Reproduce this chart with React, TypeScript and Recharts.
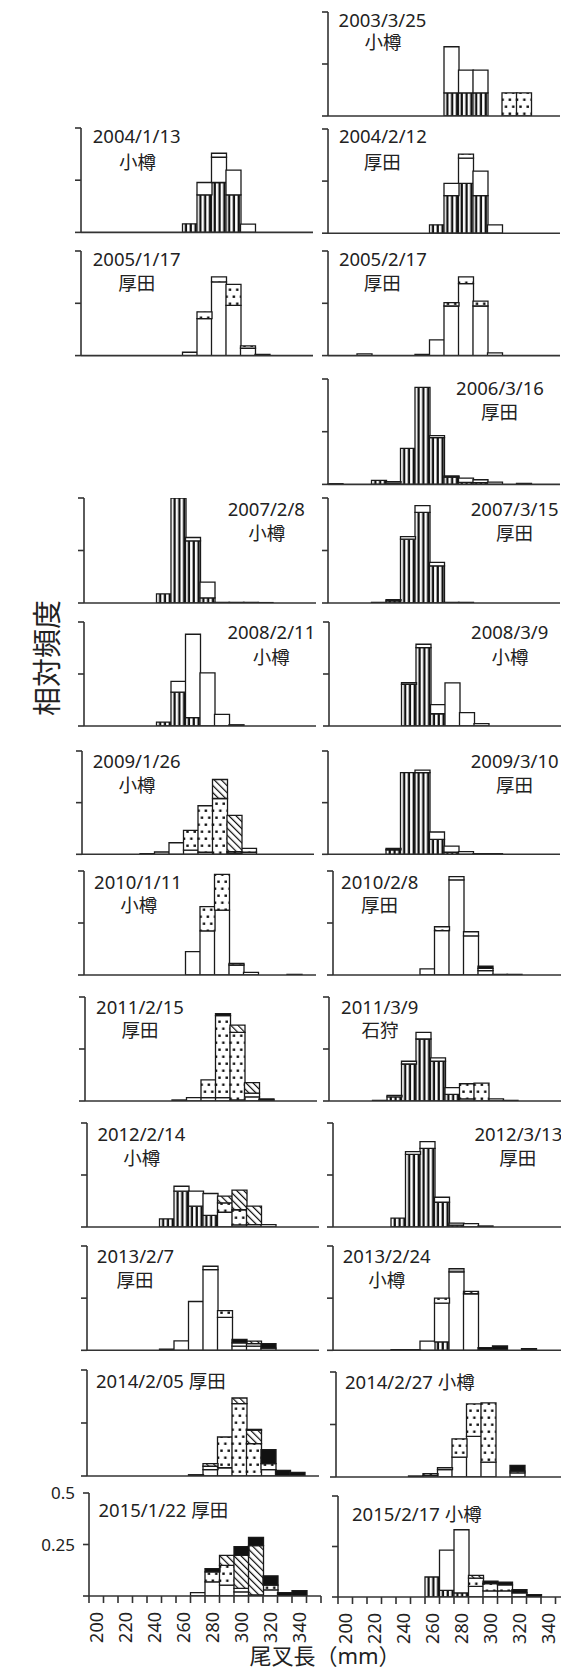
import React from 'react';
import { BarChart, Bar, XAxis, YAxis } from 'recharts';

// ---------- categories & ticks ----------
const BINS = ['200', '210', '220', '230', '240', '250', '260', '270', '280', '290', '300', '310', '320', '330', '340', '350'];
const X_LABELS = ['200', '220', '240', '260', '280', '300', '320', '340'];
const Y_TICKS = [0, 0.25, 0.5];

// ---------- data (relative frequency per 10 mm bin, stacked by group) ----------
// S = vertical stripes, W = open, D = dotted, H = hatched, B = solid black, G = grey
const D2003_0325 = {
  S: [0, 0, 0, 0, 0, 0, 0, 0, 0.111, 0.111, 0.111, 0, 0, 0, 0, 0],
  W: [0, 0, 0, 0, 0, 0, 0, 0, 0.222, 0.11, 0.11, 0, 0, 0, 0, 0],
  D: [0, 0, 0, 0, 0, 0, 0, 0, 0, 0, 0, 0, 0.111, 0.111, 0, 0],
};
const D2004_0113 = {
  S: [0, 0, 0, 0, 0, 0, 0, 0.041, 0.18, 0.239, 0.18, 0, 0, 0, 0, 0],
  W: [0, 0, 0, 0, 0, 0, 0, 0, 0.059, 0.121, 0.118, 0.04, 0, 0, 0, 0],
  D: [0, 0, 0, 0, 0, 0, 0, 0, 0, 0.019, 0, 0, 0, 0, 0, 0],
};
const D2004_0212 = {
  S: [0, 0, 0, 0, 0, 0, 0, 0.04, 0.18, 0.239, 0.18, 0, 0, 0, 0, 0],
  W: [0, 0, 0, 0, 0, 0, 0, 0, 0.059, 0.121, 0.118, 0.04, 0, 0, 0, 0],
  D: [0, 0, 0, 0, 0, 0, 0, 0, 0, 0.019, 0, 0, 0, 0, 0, 0],
};
const D2005_0117 = {
  W: [0, 0, 0, 0, 0, 0, 0, 0.016, 0.177, 0.352, 0.24, 0.035, 0.006, 0, 0, 0],
  D: [0, 0, 0, 0, 0, 0, 0, 0, 0.032, 0.024, 0.1, 0.011, 0, 0, 0, 0],
};
const D2005_0217 = {
  W: [0, 0, 0.008, 0, 0, 0, 0.006, 0.075, 0.237, 0.344, 0.237, 0.013, 0, 0, 0, 0],
  D: [0, 0, 0, 0, 0, 0, 0, 0, 0.016, 0.032, 0.023, 0, 0, 0, 0, 0],
};
const D2006_0316 = {
  S: [0, 0, 0, 0.019, 0.006, 0.171, 0.46, 0.222, 0.035, 0.01, 0.008, 0, 0, 0, 0, 0],
  W: [0.004, 0, 0, 0, 0.007, 0, 0, 0.009, 0.005, 0.02, 0.014, 0.011, 0, 0.005, 0, 0],
};
const D2007_0208 = {
  S: [0, 0, 0, 0, 0, 0.043, 0.6, 0.296, 0.024, 0, 0, 0, 0, 0, 0, 0],
  W: [0, 0, 0, 0, 0, 0, 0, 0.016, 0.075, 0.003, 0.003, 0.003, 0.002, 0, 0, 0],
};
const D2007_0315 = {
  S: [0, 0, 0, 0, 0.01, 0.304, 0.432, 0.177, 0, 0, 0, 0, 0, 0, 0, 0],
  W: [0, 0, 0, 0.003, 0.006, 0.012, 0.032, 0.016, 0.003, 0.003, 0, 0, 0, 0, 0, 0],
};
const D2008_0211 = {
  S: [0, 0, 0, 0, 0, 0.019, 0.163, 0.04, 0, 0, 0, 0, 0, 0, 0, 0],
  W: [0, 0, 0, 0, 0, 0, 0.052, 0.401, 0.255, 0.056, 0.006, 0, 0, 0, 0, 0],
};
const D2008_0309 = {
  S: [0, 0, 0, 0, 0, 0.2, 0.377, 0.059, 0, 0, 0, 0, 0, 0, 0, 0],
  W: [0, 0, 0, 0, 0, 0.008, 0.016, 0.044, 0.207, 0.064, 0.011, 0, 0, 0, 0, 0],
};
const D2009_0126 = {
  W: [0, 0, 0, 0, 0.003, 0.011, 0.056, 0.02, 0.01, 0, 0.005, 0.01, 0, 0, 0, 0],
  D: [0, 0, 0, 0, 0, 0, 0, 0.096, 0.225, 0.27, 0.008, 0.019, 0, 0, 0, 0],
  H: [0, 0, 0, 0, 0, 0, 0, 0, 0, 0.092, 0.175, 0, 0, 0, 0, 0],
};
const D2009_0310 = {
  S: [0, 0, 0, 0, 0.022, 0.395, 0.395, 0.072, 0.01, 0, 0, 0, 0, 0, 0, 0],
  W: [0, 0, 0, 0, 0.007, 0, 0.012, 0.036, 0.03, 0.013, 0.003, 0.003, 0, 0, 0, 0],
};
const D2010_0111 = {
  W: [0, 0, 0, 0, 0, 0, 0, 0.112, 0.212, 0.312, 0.048, 0.013, 0, 0, 0.003, 0],
  D: [0, 0, 0, 0, 0, 0, 0, 0, 0.117, 0.172, 0.008, 0, 0, 0, 0, 0],
};
const D2010_0208 = {
  W: [0, 0, 0, 0, 0, 0, 0.029, 0.213, 0.457, 0.188, 0.021, 0.003, 0.003, 0, 0, 0],
  D: [0, 0, 0, 0, 0, 0, 0, 0.019, 0.016, 0.02, 0.011, 0, 0, 0, 0, 0],
  B: [0, 0, 0, 0, 0, 0, 0, 0, 0, 0, 0.011, 0, 0, 0, 0, 0],
};
const D2011_0215 = {
  W: [0, 0, 0, 0, 0, 0, 0.005, 0.016, 0.016, 0.016, 0.005, 0.02, 0.005, 0, 0, 0],
  D: [0, 0, 0, 0, 0, 0, 0, 0, 0.086, 0.394, 0.325, 0.018, 0, 0, 0, 0],
  H: [0, 0, 0, 0, 0, 0, 0, 0, 0, 0, 0.035, 0.05, 0, 0, 0, 0],
  B: [0, 0, 0, 0, 0, 0, 0, 0, 0, 0.01, 0, 0, 0.005, 0, 0, 0],
};
const D2011_0309 = {
  S: [0, 0, 0, 0, 0.02, 0.178, 0.298, 0.191, 0.032, 0, 0, 0, 0, 0, 0, 0],
  W: [0, 0, 0, 0.003, 0.007, 0.013, 0.032, 0.016, 0.032, 0.01, 0, 0.01, 0.003, 0, 0, 0],
  D: [0, 0, 0, 0, 0, 0, 0, 0, 0, 0.073, 0.086, 0, 0, 0, 0, 0],
};
const D2012_0214 = {
  S: [0, 0, 0, 0, 0, 0.039, 0.172, 0.1, 0.056, 0, 0, 0, 0, 0, 0, 0],
  W: [0, 0, 0, 0, 0, 0, 0.024, 0.072, 0.105, 0.071, 0.01, 0.011, 0.011, 0, 0, 0],
  D: [0, 0, 0, 0, 0, 0, 0, 0, 0, 0.045, 0.073, 0, 0, 0, 0, 0],
  H: [0, 0, 0, 0, 0, 0, 0, 0, 0, 0.032, 0.094, 0.089, 0, 0, 0, 0],
};
const D2012_0313 = {
  S: [0, 0, 0, 0, 0.043, 0.349, 0.378, 0.119, 0.009, 0, 0, 0, 0, 0, 0, 0],
  W: [0, 0, 0, 0, 0, 0.013, 0.032, 0.024, 0.01, 0.016, 0.005, 0, 0, 0, 0, 0],
};
const D2013_0207 = {
  W: [0, 0, 0, 0, 0, 0.005, 0.045, 0.234, 0.387, 0.158, 0.02, 0.02, 0.01, 0, 0, 0],
  D: [0, 0, 0, 0, 0, 0, 0, 0, 0.016, 0.032, 0.016, 0.012, 0, 0, 0, 0],
  H: [0, 0, 0, 0, 0, 0, 0, 0, 0, 0, 0, 0.012, 0, 0, 0, 0],
  B: [0, 0, 0, 0, 0, 0, 0, 0, 0, 0, 0.016, 0, 0.022, 0, 0, 0],
};
const D2013_0224 = {
  S: [0, 0, 0, 0, 0, 0, 0, 0.04, 0, 0, 0, 0, 0, 0, 0, 0],
  W: [0, 0, 0, 0, 0, 0, 0.044, 0.186, 0.376, 0.271, 0, 0, 0, 0, 0, 0],
  D: [0, 0, 0, 0, 0, 0, 0, 0.024, 0, 0.011, 0, 0, 0, 0, 0, 0],
  B: [0, 0, 0, 0, 0.003, 0.003, 0, 0, 0, 0, 0.013, 0.021, 0, 0.008, 0, 0],
  G: [0, 0, 0, 0, 0, 0, 0, 0, 0.016, 0, 0, 0, 0, 0, 0, 0],
};
const D2014_0205 = {
  W: [0, 0, 0, 0, 0, 0, 0, 0, 0.03, 0.039, 0, 0, 0.03, 0, 0, 0],
  D: [0, 0, 0, 0, 0, 0, 0, 0, 0.016, 0.145, 0.341, 0.153, 0.028, 0, 0, 0],
  H: [0, 0, 0, 0, 0, 0, 0, 0, 0.012, 0, 0.027, 0.063, 0, 0, 0, 0],
  B: [0, 0, 0, 0, 0, 0, 0, 0.006, 0, 0, 0, 0.004, 0.066, 0.027, 0.017, 0],
};
const D2014_0227 = {
  W: [0, 0, 0, 0, 0, 0.005, 0.008, 0.035, 0.095, 0.193, 0.071, 0, 0.02, 0, 0, 0],
  D: [0, 0, 0, 0, 0, 0, 0.008, 0.009, 0.087, 0.155, 0.282, 0, 0.008, 0, 0, 0],
  B: [0, 0, 0, 0, 0, 0, 0, 0, 0, 0, 0, 0, 0.027, 0, 0, 0],
};
const D2015_0122 = {
  W: [0, 0, 0, 0, 0, 0, 0, 0.016, 0.069, 0.053, 0.02, 0.005, 0.03, 0, 0, 0],
  D: [0, 0, 0, 0, 0, 0, 0, 0, 0.048, 0.096, 0.017, 0, 0.023, 0, 0, 0],
  H: [0, 0, 0, 0, 0, 0, 0, 0, 0, 0.048, 0.16, 0.24, 0, 0, 0, 0],
  B: [0, 0, 0, 0, 0, 0, 0, 0, 0.016, 0, 0.043, 0.04, 0.045, 0.016, 0.026, 0],
};
const D2015_0217 = {
  S: [0, 0, 0, 0, 0, 0, 0.099, 0.033, 0.02, 0, 0, 0, 0, 0, 0, 0],
  W: [0, 0, 0, 0, 0, 0, 0, 0.199, 0.313, 0.053, 0.03, 0.03, 0.02, 0, 0, 0],
  D: [0, 0, 0, 0, 0, 0, 0, 0, 0, 0.04, 0.036, 0.03, 0, 0, 0, 0],
  H: [0, 0, 0, 0, 0, 0, 0, 0, 0, 0.014, 0, 0, 0, 0, 0, 0],
  B: [0, 0, 0, 0, 0, 0, 0, 0, 0, 0, 0.012, 0.014, 0.016, 0.012, 0, 0],
};

// ---------- styling ----------
const FONT = "'Noto Sans', 'Noto Sans CJK JP', sans-serif";
const AX = '#333';
const TXT = '#222';
const PLOT_W = 232;
const Y_W = 60;
const M_TOP = 14;

const SERIES = [
  { key: 'S', fill: 'url(#pS)' },
  { key: 'W', fill: '#ffffff' },
  { key: 'D', fill: 'url(#pD)' },
  { key: 'H', fill: 'url(#pH)' },
  { key: 'B', fill: '#111111' },
  { key: 'G', fill: '#a8a8a8' },
];

type P = {
  d: Record<string, number[]>;
  ax: number; top: number; h: number;
  bottom?: boolean; yLabels?: boolean;
  t1: string; t2?: string;
  c1: number; y1: number; c2?: number; y2?: number;
  start?: boolean;
};

const LAYOUT: P[] = [
  { d: D2003_0325, ax: 327.7, top: 11.7, h: 104, t1: '2003/3/25', t2: '小樽', c1: 382.5, y1: 27.3, c2: 383, y2: 49 },
  { d: D2004_0113, ax: 80.7, top: 128.3, h: 104.4, t1: '2004/1/13', t2: '小樽', c1: 136.7, y1: 143.3, c2: 137.5, y2: 168.5 },
  { d: D2004_0212, ax: 327.7, top: 128.5, h: 104.2, t1: '2004/2/12', t2: '厚田', c1: 382.8, y1: 143.3, c2: 382.3, y2: 168.5 },
  { d: D2005_0117, ax: 80.7, top: 250.7, h: 104.6, t1: '2005/1/17', t2: '厚田', c1: 136.7, y1: 266, c2: 136.7, y2: 290 },
  { d: D2005_0217, ax: 327.7, top: 250.7, h: 104.6, t1: '2005/2/17', t2: '厚田', c1: 382.8, y1: 266, c2: 382.3, y2: 290 },
  { d: D2006_0316, ax: 327.7, top: 379.3, h: 105.4, t1: '2006/3/16', t2: '厚田', c1: 500, y1: 395, c2: 499.5, y2: 418.5 },
  { d: D2007_0208, ax: 84, top: 498.3, h: 105, t1: '2007/2/8', t2: '小樽', c1: 266.3, y1: 516, c2: 266.7, y2: 540 },
  { d: D2007_0315, ax: 328.3, top: 498.3, h: 105, t1: '2007/3/15', t2: '厚田', c1: 514.7, y1: 516, c2: 514.5, y2: 540 },
  { d: D2008_0211, ax: 84.3, top: 621.7, h: 104, t1: '2008/2/11', t2: '小樽', c1: 271.3, y1: 639.3, c2: 271.3, y2: 663.5 },
  { d: D2008_0309, ax: 329.3, top: 621.7, h: 104, t1: '2008/3/9', t2: '小樽', c1: 509.7, y1: 639.3, c2: 510, y2: 663.5 },
  { d: D2009_0126, ax: 82.3, top: 751, h: 103.3, t1: '2009/1/26', t2: '小樽', c1: 136.7, y1: 768.3, c2: 137, y2: 791.5 },
  { d: D2009_0310, ax: 328.3, top: 751, h: 103.3, t1: '2009/3/10', t2: '厚田', c1: 514.7, y1: 768.3, c2: 514.5, y2: 791.5 },
  { d: D2010_0111, ax: 84.3, top: 871, h: 104, t1: '2010/1/11', t2: '小樽', c1: 138, y1: 889.3, c2: 138.7, y2: 911.5 },
  { d: D2010_0208, ax: 332.7, top: 871, h: 104, t1: '2010/2/8', t2: '厚田', c1: 379.7, y1: 889.3, c2: 379.5, y2: 911.5 },
  { d: D2011_0215, ax: 85, top: 996.7, h: 104, t1: '2011/2/15', t2: '厚田', c1: 140, y1: 1014, c2: 140, y2: 1036.8 },
  { d: D2011_0309, ax: 329.3, top: 996.7, h: 104, t1: '2011/3/9', t2: '石狩', c1: 379.7, y1: 1014, c2: 380, y2: 1036.8 },
  { d: D2012_0214, ax: 87.3, top: 1123.3, h: 104, t1: '2012/2/14', t2: '小樽', c1: 141.3, y1: 1140.7, c2: 141.7, y2: 1164.5 },
  { d: D2012_0313, ax: 333.3, top: 1123.3, h: 104, t1: '2012/3/13', t2: '厚田', c1: 518.3, y1: 1140.7, c2: 517.7, y2: 1164.5 },
  { d: D2013_0207, ax: 86.7, top: 1245.7, h: 104.3, t1: '2013/2/7', t2: '厚田', c1: 135.5, y1: 1263.3, c2: 135, y2: 1286.8 },
  { d: D2013_0224, ax: 333.3, top: 1245.7, h: 104.3, t1: '2013/2/24', t2: '小樽', c1: 386.7, y1: 1263.3, c2: 386.7, y2: 1286.8 },
  { d: D2014_0205, ax: 86.7, top: 1370, h: 106, t1: '2014/2/05 厚田', c1: 96, y1: 1388.3, start: true },
  { d: D2014_0227, ax: 336, top: 1371.7, h: 105, t1: '2014/2/27 小樽', c1: 345, y1: 1389, start: true },
  { d: D2015_0122, ax: 89, top: 1493, h: 103, bottom: true, yLabels: true, t1: '2015/1/22 厚田', c1: 98.5, y1: 1517, start: true },
  { d: D2015_0217, ax: 338, top: 1496, h: 101, bottom: true, t1: '2015/2/17 小樽', c1: 352, y1: 1521, start: true },
];

function Panel({ p }: { p: P }) {
  const rows = BINS.map((bin, i) => {
    const r: Record<string, any> = { bin };
    SERIES.forEach((s) => {
      r[s.key] = p.d[s.key] ? p.d[s.key][i] : 0;
    });
    return r;
  });
  const xh = p.bottom ? 66 : 2;
  const bw = PLOT_W / BINS.length;

  const xTick = (props: any) => {
    const { x, y, index, payload } = props;
    const lx = x - bw / 2;
    const show = X_LABELS.indexOf(String(payload.value)) >= 0;
    return (
      <g>
        <line x1={lx} x2={lx} y1={y} y2={y + 7} stroke={AX} strokeWidth={1.6} />
        {index === BINS.length - 1 && (
          <line x1={x + bw / 2} x2={x + bw / 2} y1={y} y2={y + 7} stroke={AX} strokeWidth={1.6} />
        )}
        {show && (
          <text
            transform={`translate(${x + 6.4},${y + 16}) rotate(-90)`}
            textAnchor="end"
            fontFamily={FONT}
            fontSize={18}
            fill={TXT}
          >
            {payload.value}
          </text>
        )}
      </g>
    );
  };

  const yTick = (props: any) => {
    const { x, y, payload } = props;
    if (!p.yLabels || payload.value === 0) return <g />;
    return (
      <text x={x} y={y} dy={6} textAnchor="end" fontFamily={FONT} fontSize={17} fill={TXT}>
        {String(payload.value)}
      </text>
    );
  };

  return (
    <div style={{ position: 'absolute', left: p.ax - Y_W, top: p.top - M_TOP }}>
      <BarChart
        width={Y_W + PLOT_W + 4}
        height={M_TOP + p.h + xh}
        data={rows}
        margin={{ top: M_TOP, right: 4, bottom: 0, left: 0 }}
        barCategoryGap={0}
        barGap={0}
      >
        <XAxis
          dataKey="bin"
          type="category"
          height={xh}
          interval={0}
          tickSize={0}
          tickMargin={0}
          tickLine={false}
          axisLine={{ stroke: AX, strokeWidth: 1.6 }}
          tick={p.bottom ? xTick : false}
        />
        <YAxis
          type="number"
          width={Y_W}
          domain={[0, 0.5]}
          ticks={Y_TICKS}
          interval={0}
          allowDataOverflow
          tickSize={6}
          tickMargin={8}
          tickLine={{ stroke: AX, strokeWidth: 1.6 }}
          axisLine={{ stroke: AX, strokeWidth: 1.6 }}
          tick={yTick}
        />
        {SERIES.map((s) => (
          <Bar
            key={s.key}
            dataKey={s.key}
            stackId="a"
            fill={s.fill}
            stroke="#1a1a1a"
            strokeWidth={1.3}
            isAnimationActive={false}
          />
        ))}
      </BarChart>
    </div>
  );
}

export default function App() {
  return (
    <div style={{ position: 'absolute', left: 0, top: 0, width: 561, height: 1674, background: '#fff', overflow: 'hidden' }}>
      <svg width={0} height={0} style={{ position: 'absolute', left: 0, top: 0 }}>
        <defs>
          <pattern id="pS" patternUnits="userSpaceOnUse" width={4.8} height={10}>
            <rect width={4.8} height={10} fill="#fff" />
            <rect x={0.6} width={2.3} height={10} fill="#111" />
          </pattern>
          <pattern id="pD" patternUnits="userSpaceOnUse" width={7.25} height={14}>
            <rect width={7.25} height={14} fill="#fff" />
            <rect x={1.4} y={2.5} width={2.4} height={2.4} fill="#111" />
            <rect x={4.8} y={9.5} width={2.4} height={2.4} fill="#111" />
          </pattern>
          <pattern id="pH" patternUnits="userSpaceOnUse" width={5} height={5} patternTransform="rotate(-45)">
            <rect width={5} height={5} fill="#fff" />
            <rect width={1.2} height={5} fill="#111" />
          </pattern>
        </defs>
      </svg>
      {LAYOUT.map((p) => (
        <Panel key={p.t1} p={p} />
      ))}
      <svg
        width={561}
        height={1674}
        style={{ position: 'absolute', left: 0, top: 0, pointerEvents: 'none' }}
      >
        {LAYOUT.map((p) => (
          <g key={p.t1} fontFamily={FONT} fontSize={18.5} fill={TXT}>
            <text x={p.c1} y={p.y1} textAnchor={p.start ? 'start' : 'middle'}>
              {p.t1}
            </text>
            {p.t2 && (
              <text x={p.c2} y={p.y2} textAnchor="middle">
                {p.t2}
              </text>
            )}
          </g>
        ))}
        <text
          transform="translate(58,658) rotate(-90)"
          textAnchor="middle"
          fontFamily={FONT}
          fontSize={29}
          fill={TXT}
        >
          相対頻度
        </text>
        <text x={325} y={1664} textAnchor="middle" fontFamily={FONT} fontSize={22} fill={TXT}>
          尾叉長（mm）
        </text>
      </svg>
    </div>
  );
}
